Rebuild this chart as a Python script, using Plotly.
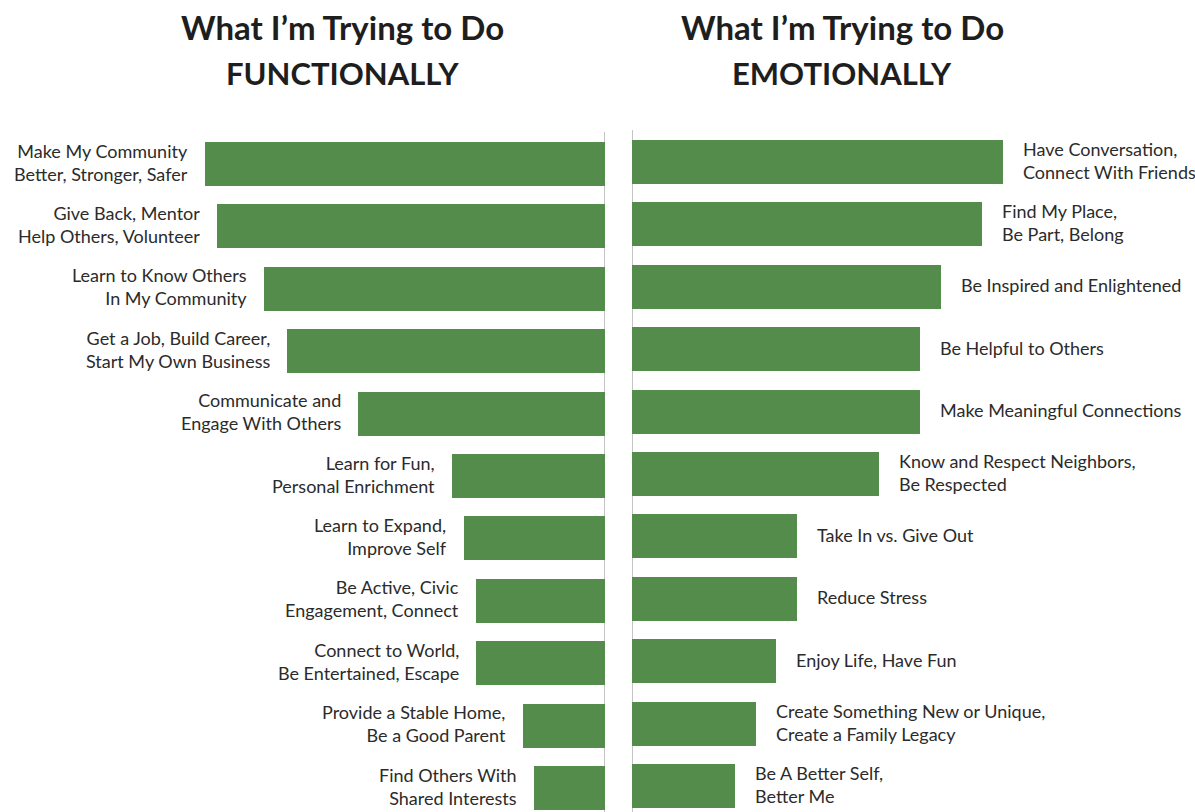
import plotly.graph_objects as go

# Functional goals (left panel), top to bottom
func_labels = [
    "Make My Community<br>Better, Stronger, Safer",
    "Give Back, Mentor<br>Help Others, Volunteer",
    "Learn to Know Others<br>In My Community",
    "Get a Job, Build Career,<br>Start My Own Business",
    "Communicate and<br>Engage With Others",
    "Learn for Fun,<br>Personal Enrichment",
    "Learn to Expand,<br>Improve Self",
    "Be Active, Civic<br>Engagement, Connect",
    "Connect to World,<br>Be Entertained, Escape",
    "Provide a Stable Home,<br>Be a Good Parent",
    "Find Others With<br>Shared Interests",
]
func_values = [34, 33, 29, 27, 21, 13, 12, 11, 11, 7, 6]

# Emotional goals (right panel), top to bottom
emo_labels = [
    "Have Conversation,<br>Connect With Friends",
    "Find My Place,<br>Be Part, Belong",
    "Be Inspired and Enlightened",
    "Be Helpful to Others",
    "Make Meaningful Connections",
    "Know and Respect Neighbors,<br>Be Respected",
    "Take In vs. Give Out",
    "Reduce Stress",
    "Enjoy Life, Have Fun",
    "Create Something New or Unique,<br>Create a Family Legacy",
    "Be A Better Self,<br>Better Me",
]
emo_values = [18, 17, 15, 14, 14, 12, 8, 8, 7, 6, 5]

W, H = 1195, 812
GREEN = "#548d4b"
TEXT = "#2b2b2b"
FONT = "Lato, 'Source Sans Pro', Arial, sans-serif"

func_idx = list(range(len(func_values)))
emo_idx = list(range(len(emo_values)))

fig = go.Figure()
fig.add_trace(go.Bar(
    x=func_values, y=func_idx, orientation="h", width=0.705,
    marker=dict(color=GREEN, line=dict(width=0)),
    xaxis="x", yaxis="y", hoverinfo="skip", showlegend=False,
))
fig.add_trace(go.Bar(
    x=emo_values, y=emo_idx, orientation="h", width=0.705,
    marker=dict(color=GREEN, line=dict(width=0)),
    xaxis="x2", yaxis="y2", hoverinfo="skip", showlegend=False,
))

# labels beside the bar ends
for lab, v, i in zip(func_labels, func_values, func_idx):
    fig.add_annotation(x=v, y=i, xref="x", yref="y", text=lab, showarrow=False,
                       xanchor="right", yanchor="middle", align="right",
                       xshift=-15, yshift=2,
                       font=dict(family=FONT, size=18, color=TEXT))
for lab, v, i in zip(emo_labels, emo_values, emo_idx):
    fig.add_annotation(x=v, y=i, xref="x2", yref="y2", text=lab, showarrow=False,
                       xanchor="left", yanchor="middle", align="left",
                       xshift=18, yshift=1.5,
                       font=dict(family=FONT, size=18, color=TEXT))

# panel titles, one annotation per line
for cx, word in [(342, "FUNCTIONALLY"), (842, "EMOTIONALLY")]:
    fig.add_annotation(x=cx / W, y=1 - 27 / H, xref="paper", yref="paper",
                       text="<b>What I’m Trying to Do</b>",
                       showarrow=False, xanchor="center", yanchor="middle",
                       font=dict(family=FONT, size=33, color="#1e1e1e"))
    fig.add_annotation(x=cx / W, y=1 - 73 / H, xref="paper", yref="paper",
                       text="<b>" + word + "</b>",
                       showarrow=False, xanchor="center", yanchor="middle",
                       font=dict(family=FONT, size=31, color="#1e1e1e"))

# baseline rules of each panel
fig.add_shape(type="line", xref="x", yref="paper", x0=0, x1=0,
              y0=0, y1=1 - 132 / H, line=dict(color="#c4c4c4", width=2), layer="below")
fig.add_shape(type="line", xref="x2", yref="paper", x0=0, x1=0,
              y0=0, y1=1 - 130 / H, line=dict(color="#c4c4c4", width=2), layer="below")

step = 62.4
span = H / step
lt = -164 / step
rt = -162 / step

fig.update_layout(
    width=W, height=H,
    margin=dict(l=0, r=0, t=0, b=0),
    paper_bgcolor="white", plot_bgcolor="white",
    xaxis=dict(domain=[0, 605 / W], range=[605 / (400 / 34), 0],
               visible=False, fixedrange=True),
    yaxis=dict(domain=[0, 1], range=[lt + span, lt], visible=False, fixedrange=True),
    xaxis2=dict(domain=[632 / W, 1], range=[0, (W - 632) / 20.6],
                visible=False, fixedrange=True),
    yaxis2=dict(domain=[0, 1], range=[rt + span, rt], visible=False,
                fixedrange=True, anchor="x2"),
    bargap=0,
)

fig.write_html("out.html", config={"displayModeBar": False})
